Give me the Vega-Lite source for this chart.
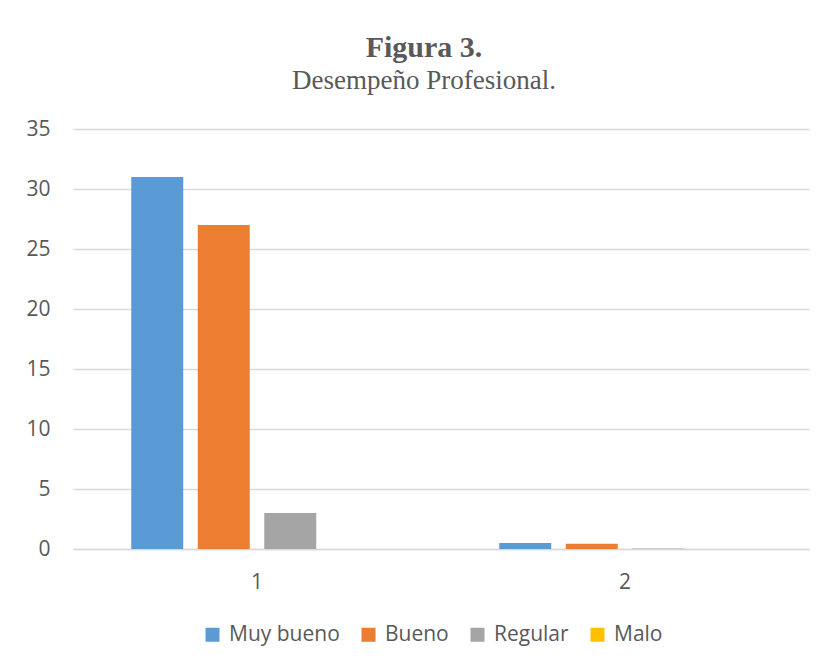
{
  "$schema": "https://vega.github.io/schema/vega-lite/v6.json",
  "width": 736,
  "height": 420,
  "autosize": {"type": "none"},
  "padding": {"left": 73, "top": 129, "right": 18, "bottom": 120},
  "background": "white",
  "title": {
    "text": "Figura 3.",
    "subtitle": "Desempeño Profesional.",
    "font": "Liberation Serif",
    "fontSize": 30,
    "fontWeight": "bold",
    "color": "#595959",
    "subtitleFont": "Liberation Serif",
    "subtitleFontSize": 27,
    "subtitleColor": "#595959",
    "subtitlePadding": 5,
    "anchor": "middle",
    "dx": -17,
    "offset": 24
  },
  "data": {
    "values": [
      {"grupo": "1", "categoria": "Muy bueno", "valor": 31},
      {"grupo": "1", "categoria": "Bueno", "valor": 27},
      {"grupo": "1", "categoria": "Regular", "valor": 3},
      {"grupo": "1", "categoria": "Malo", "valor": 0},
      {"grupo": "2", "categoria": "Muy bueno", "valor": 0.51},
      {"grupo": "2", "categoria": "Bueno", "valor": 0.44},
      {"grupo": "2", "categoria": "Regular", "valor": 0.05},
      {"grupo": "2", "categoria": "Malo", "valor": 0}
    ]
  },
  "mark": {"type": "bar", "strokeWidth": 0},
  "encoding": {
    "x": {
      "field": "grupo",
      "type": "nominal",
      "scale": {"paddingInner": 0, "paddingOuter": 0},
      "axis": {
        "title": null,
        "labelAngle": 0,
        "labelFont": "Open Sans",
        "labelFontSize": 21,
        "labelColor": "#595959",
        "labelPadding": 22,
        "ticks": false,
        "domainColor": "#D9D9D9",
        "domainWidth": 1.5
      }
    },
    "xOffset": {
      "field": "categoria",
      "type": "nominal",
      "sort": ["Muy bueno", "Bueno", "Regular", "Malo"],
      "scale": {"paddingInner": 0.218, "paddingOuter": 0.876}
    },
    "y": {
      "field": "valor",
      "type": "quantitative",
      "scale": {"domain": [0, 35], "nice": false},
      "axis": {
        "title": null,
        "values": [0, 5, 10, 15, 20, 25, 30, 35],
        "labelFont": "Open Sans",
        "labelFontSize": 21,
        "labelColor": "#595959",
        "labelPadding": 23,
        "ticks": false,
        "domain": false,
        "gridColor": "#D9D9D9",
        "gridWidth": 1.5
      }
    },
    "color": {
      "field": "categoria",
      "type": "nominal",
      "sort": ["Muy bueno", "Bueno", "Regular", "Malo"],
      "scale": {
        "domain": ["Muy bueno", "Bueno", "Regular", "Malo"],
        "range": ["#5B9BD5", "#ED7D31", "#A5A5A5", "#FFC000"]
      },
      "legend": {
        "title": null,
        "orient": "none",
        "legendX": 129,
        "legendY": 495,
        "padding": 0,
        "direction": "horizontal",
        "symbolType": "square",
        "symbolSize": 196,
        "symbolStrokeWidth": 0,
        "labelFont": "Open Sans",
        "labelFontSize": 21,
        "labelColor": "#595959",
        "columnPadding": 18,
        "labelOffset": 6
      }
    }
  },
  "config": {"view": {"stroke": null}}
}
